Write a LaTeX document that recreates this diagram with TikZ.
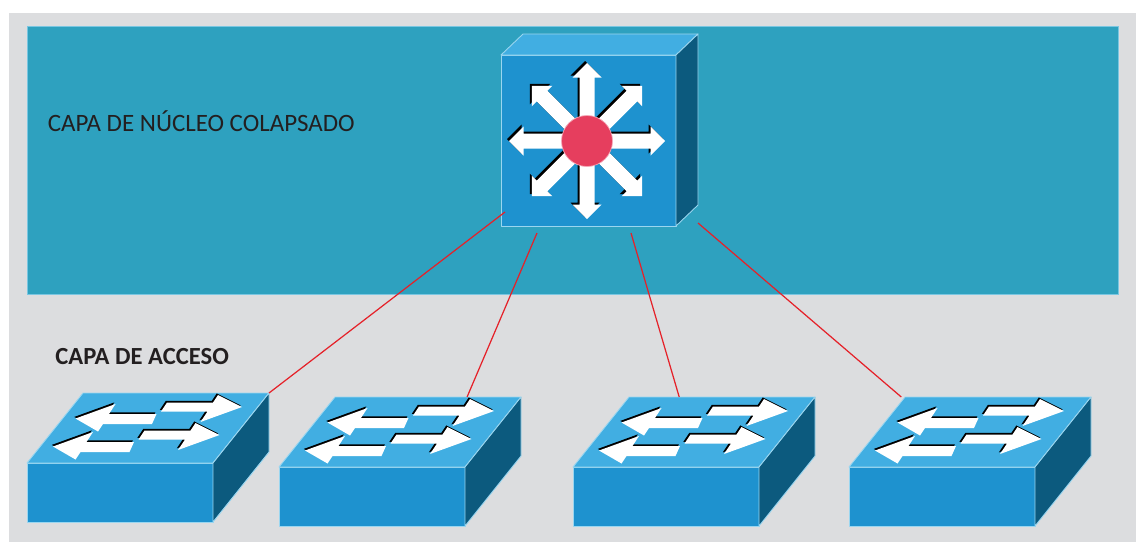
\documentclass[tikz,border=0pt]{standalone}
\usepackage{fontspec}
\setmainfont{Carlito}
\usetikzlibrary{calc}

\definecolor{panelgrey}{HTML}{DCDDDF}
\definecolor{coreteal}{HTML}{2EA1BF}
\definecolor{facefront}{HTML}{1E92CF}
\definecolor{facetop}{HTML}{41AEE2}
\definecolor{faceside}{HTML}{0C5A7E}
\definecolor{faceedge}{HTML}{9AD6F0}
\definecolor{linkred}{HTML}{E52129}
\definecolor{hubred}{HTML}{E63E5E}
\definecolor{labelgrey}{HTML}{231F20}

\tikzstyle{frontface} = [fill=facefront, draw=faceedge, line width=0.5pt, line join=round]
\tikzstyle{topface} = [fill=facetop, draw=faceedge, line width=0.5pt, line join=round]
\tikzstyle{sideface} = [fill=faceside, draw=faceedge, line width=0.5pt, line join=round]
\tikzstyle{layerlabel} = [anchor=base west, inner sep=0pt, text=labelgrey]
\tikzstyle{link} = [draw=linkred, line width=0.7pt]

\tikzset{
  % layer 2 switch, origin at the top left corner of the front face
  accessswitch/.pic={
    \path[frontface] (0,0) rectangle (186,59);
    \path[topface] (0,0) -- (186,0) -- (242,-70) -- (56,-70) -- cycle;
    \path[sideface] (186,0) -- (242,-70) -- (242,-11) -- (186,59) -- cycle;
    \foreach \dx/\dy in {0/0,-22.5/28}
      \foreach \ox/\oy/\col in {-1.2/-1.6/black,0/0/white} {
        \fill[\col, shift={(\dx+\ox,\dy+\oy)}]
          (140,-60.5) -- (186,-60.5) -- (191,-68) -- (215,-56) -- (173.5,-41)
          -- (180.5,-51.5) -- (134,-51.5) -- cycle;
        \fill[\col, shift={(\dx+\ox,\dy+\oy)}]
          (48.5,-44.5) -- (88.5,-59) -- (82,-49) -- (129.5,-49) -- (125,-39)
          -- (76,-39) -- (71,-31.5) -- cycle;
      }
    \coordinate (-backleft) at (56,-70);
    \coordinate (-backright) at (242,-70);
  },
  % layer 3 switch, origin at the top left corner of the front face
  coreswitch/.pic={
    \path[frontface] (0,0) rectangle (175,171);
    \path[topface] (0,0) -- (175,0) -- (197,-21) -- (22,-21) -- cycle;
    \path[sideface] (175,0) -- (197,-21) -- (197,150) -- (175,171) -- cycle;
    \coordinate (-hub) at (86,86);
    \foreach \ox/\oy/\col in {-2/-2/black,0/0/white}
      \foreach \a in {0,45,...,315}
        \fill[\col, shift={(86+\ox,86+\oy)}, rotate=\a]
          (0,-7.5) -- (63.5,-7.5) -- (63.5,-14.5) -- (78,0) -- (63.5,14.5)
          -- (63.5,7.5) -- (0,7.5) -- cycle;
    \fill[hubred, draw=hubred!45!white, line width=0.4pt] (-hub) circle (25.5);
    \coordinate (-p1) at (4,157);
    \coordinate (-p2) at (36,178);
    \coordinate (-p3) at (130,178);
    \coordinate (-p4) at (197,168);
  }
}

\begin{document}
\begin{tikzpicture}[x=0.02cm, y=-0.02cm]
    \useasboundingbox (0,0) rectangle (1136,542);
    \fill[white] (0,0) rectangle (1136,542);
    % Background panels
    \fill[panelgrey] (9,13) rectangle (1136,542);
    \path[fill=coreteal, draw=faceedge!70!coreteal, line width=0.5pt] (27,26) rectangle (1118,294);
    % Place nodes
    \node[layerlabel, font=\fontsize{14.2}{17}\selectfont] (corelabel) at (47.5,131.7) {CAPA DE NÚCLEO COLAPSADO};
    \node[layerlabel, font=\fontsize{14}{17}\selectfont\bfseries] (accesslabel) at (55,364.3) {CAPA DE ACCESO};
    \pic (core) at (501,55) {coreswitch};
    \pic (acc1) at (27,463) {accessswitch};
    \pic (acc2) at (279,467) {accessswitch};
    \pic (acc3) at (573,467) {accessswitch};
    \pic (acc4) at (849,467) {accessswitch};
    % Draw edges
    \path[link] (core-p1) -- (acc1-backright);
    \path[link] (core-p2) -- ($(acc2-backleft)!0.71!(acc2-backright)$);
    \path[link] (core-p3) -- ($(acc3-backleft)!0.27!(acc3-backright)$);
    \path[link] (core-p4) -- ($(acc4-backleft)!-0.02!(acc4-backright)$);
\end{tikzpicture}
\end{document}
